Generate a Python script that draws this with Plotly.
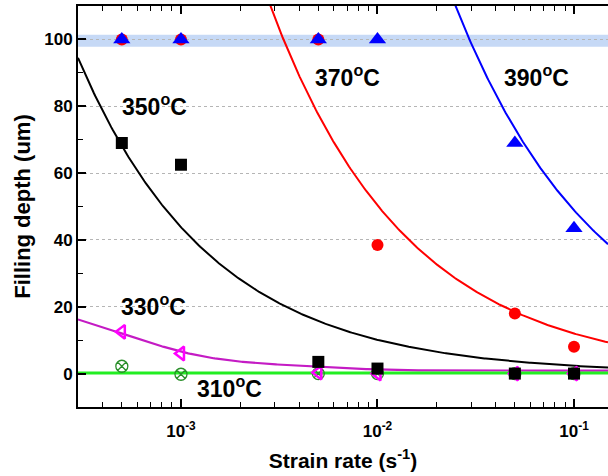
import numpy as np
import plotly.graph_objects as go

# ---- data ----
strain_rate = [5e-4, 1e-3, 5e-3, 1e-2, 5e-2, 1e-1]
depth_310 = [2.2, -0.2, 0.0, 0.0, 0.0, 0.0]
depth_330 = [12.5, 6.0, 0.3, 0.0, 0.0, 0.0]
depth_350 = [69.0, 62.5, 3.5, 1.5, 0.0, 0.0]
depth_370 = [100.0, 100.0, 100.0, 38.5, 18.0, 8.0]
depth_390 = [100.0, 100.0, 100.0, 100.0, 69.0, 43.5]

x_tick_vals = [1e-3, 1e-2, 1e-1]
x_tick_text = ["10<sup>-3</sup>", "10<sup>-2</sup>", "10<sup>-1</sup>"]
y_tick_vals = [0, 20, 40, 60, 80, 100]

# fitted-curve parameters
# power-law fits: log10(y) = c - p*(log10(x) - u0)
fit_350 = dict(c=1.205, p=0.637, u0=-2.3146)
fit_370 = dict(c=1.6182, p=0.623, u0=-1.8657)
fit_390 = dict(c=1.8307, p=0.5845, u0=-1.2423)
# two-term exponential decay for 330 C
fit_330 = dict(a1=22.0, t1=4.76e-4, a2=3.84, t2=4.04e-3, y0=0.9)
fit_310_level = 0.2

x_range_log = [-3.524, -0.827]
y_range = [-10, 110]
band = [97.8, 101.4]

FONT = "Liberation Sans, Arial, sans-serif"

xs = np.logspace(x_range_log[0], x_range_log[1], 400)
u = np.log10(xs)


def power_fit(f):
    return 10 ** (f["c"] - f["p"] * (u - f["u0"]))


y350 = power_fit(fit_350)
y370 = power_fit(fit_370)
y390 = power_fit(fit_390)
y330 = fit_330["a1"] * np.exp(-xs / fit_330["t1"]) + fit_330["a2"] * np.exp(-xs / fit_330["t2"]) + fit_330["y0"]
y310 = np.full_like(xs, fit_310_level)

fig = go.Figure()

# fit lines
fig.add_trace(go.Scatter(x=xs, y=y330, mode="lines", line=dict(color="#c41bc4", width=2.2)))
fig.add_trace(go.Scatter(x=xs, y=y310, mode="lines", line=dict(color="#22ee22", width=3)))
fig.add_trace(go.Scatter(x=xs, y=y350, mode="lines", line=dict(color="black", width=2)))
fig.add_trace(go.Scatter(x=xs, y=y370, mode="lines", line=dict(color="#ff0000", width=2)))
fig.add_trace(go.Scatter(x=xs, y=y390, mode="lines", line=dict(color="#0000ff", width=2)))

# markers
fig.add_trace(go.Scatter(x=strain_rate, y=depth_310, mode="markers",
                         marker=dict(symbol="circle-x-open", size=12, color="#2a8f2a", line=dict(width=1.3))))
fig.add_trace(go.Scatter(x=strain_rate, y=depth_330, mode="markers",
                         marker=dict(symbol="triangle-left-open", size=12, color="#ff00ff", line=dict(width=2.5))))
fig.add_trace(go.Scatter(x=strain_rate, y=depth_350, mode="markers",
                         marker=dict(symbol="square", size=12, color="black")))
fig.add_trace(go.Scatter(x=strain_rate, y=depth_370, mode="markers",
                         marker=dict(symbol="circle", size=12, color="#ff0000")))
fig.add_trace(go.Scatter(x=strain_rate, y=depth_390, mode="markers",
                         marker=dict(symbol="triangle-up", size=15, color="#0000ff")))

fig.add_shape(type="rect", xref="paper", x0=0, x1=1, yref="y", y0=band[0], y1=band[1],
              fillcolor="#c6d9f6", line=dict(width=0), layer="below")

ann_font = dict(family=FONT, size=23, color="black", weight="bold")
labels = [
    ("350<sup>o</sup>C", -3.137, 80.4),
    ("370<sup>o</sup>C", -2.153, 89.1),
    ("390<sup>o</sup>C", -1.193, 89.1),
    ("330<sup>o</sup>C", -3.14, 20.4),
    ("310<sup>o</sup>C", -2.753, -3.9),
]
for txt, lx, ly in labels:
    fig.add_annotation(x=lx, y=ly, xref="x", yref="y", text=txt, showarrow=False,
                       xanchor="center", yanchor="middle", font=ann_font)

tick_font = dict(family=FONT, size=17, color="black", weight="bold")
fig.update_layout(
    width=608, height=476,
    margin=dict(l=78, r=0, t=6, b=69),
    plot_bgcolor="white", paper_bgcolor="white",
    showlegend=False,
    xaxis=dict(type="log", range=x_range_log, tickvals=x_tick_vals, ticktext=x_tick_text,
               ticks="inside", ticklen=8, tickwidth=1.5, tickcolor="black",
               showline=True, linecolor="black", linewidth=2, mirror="allticks",
               showgrid=False, zeroline=False, tickfont=tick_font, automargin=False,
               ticklabelstandoff=8,
               minor=dict(ticks="inside", ticklen=5, tickwidth=1.2, tickcolor="black", dtick="D1", showgrid=False),
               title=dict(text="Strain rate (s<sup>-1</sup>)", font=dict(family=FONT, size=21, color="black", weight="bold"),
                          standoff=13)),
    yaxis=dict(range=y_range, tickvals=y_tick_vals,
               ticks="inside", ticklen=8, tickwidth=1.5, tickcolor="black",
               showline=True, linecolor="black", linewidth=2, mirror=False,
               showgrid=True, gridcolor="#b5b5b5", griddash="dot", gridwidth=1,
               zeroline=False, tickfont=tick_font, automargin=False,
               minor=dict(ticks="inside", ticklen=5, tickwidth=1.2, tickcolor="black", dtick=10, showgrid=False),
               title=dict(text="Filling depth (um)", font=dict(family=FONT, size=22, color="black", weight="bold"),
                          standoff=8)),
)

fig.write_html("out.html", config={"displayModeBar": False},
               post_script="document.body.style.margin='0';document.body.style.overflow='hidden';")
